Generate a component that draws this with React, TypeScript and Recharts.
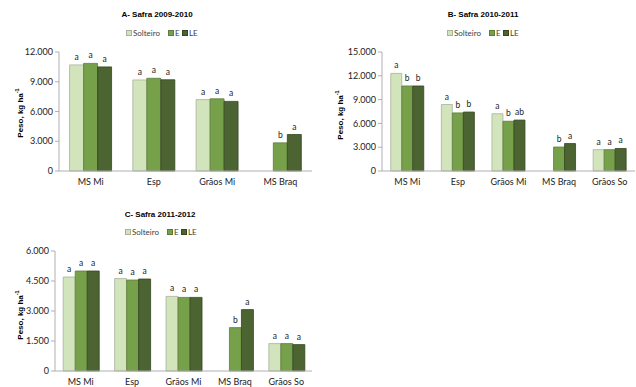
import React from "react";
import { BarChart, Bar, XAxis, YAxis, LabelList } from "recharts";

// ---- Data ----
const catsA = ["MS Mi", "Esp", "Grãos Mi", "MS Braq"];
const solteiroA = [10700, 9180, 7200, null];
const eA = [10850, 9350, 7280, 2840];
const leA = [10500, 9200, 7020, 3680];
const sigSolteiroA = ["a", "a", "a", ""];
const sigEA = ["a", "a", "a", "b"];
const sigLEA = ["a", "a", "a", "a"];
const ticksA = [0, 3000, 6000, 9000, 12000];

const catsB = ["MS Mi", "Esp", "Grãos Mi", "MS Braq", "Grãos So"];
const solteiroB = [12300, 8380, 7220, null, 2690];
const eB = [10720, 7320, 6270, 3020, 2690];
const leB = [10720, 7430, 6420, 3460, 2840];
const sigSolteiroB = ["a", "a", "a", "", "a"];
const sigEB = ["b", "b", "b", "b", "a"];
const sigLEB = ["b", "b", "ab", "a", "a"];
const ticksB = [0, 3000, 6000, 9000, 12000, 15000];

const catsC = ["MS Mi", "Esp", "Grãos Mi", "MS Braq", "Grãos So"];
const solteiroC = [4700, 4620, 3730, null, 1370];
const eC = [5000, 4550, 3680, 2170, 1370];
const leC = [5000, 4600, 3680, 3070, 1320];
const sigSolteiroC = ["a", "a", "a", "", "a"];
const sigEC = ["a", "a", "a", "b", "a"];
const sigLEC = ["a", "a", "a", "a", "a"];
const ticksC = [0, 1500, 3000, 4500, 6000];

const seriesNames = ["Solteiro", "E", "LE"];
const titles = ["A- Safra 2009-2010", "B- Safra 2010-2011", "C- Safra 2011-2012"];

// ---- Styles ----
const FILLS = ["#d2e4bb", "#77a04b", "#4b6431"];
const STROKES = ["#a9b19c", "#5d7e3a", "#33461f"];
const TICK_FONT = "Lato, 'Open Sans', sans-serif";
const TITLE_FONT = "'Liberation Sans', Arial, sans-serif";
const LEGEND_OFFSETS = [0, 42, 56];

const fmt = (v: number) => (v === 0 ? "0" : v.toLocaleString("de-DE"));

function buildRows(cats: string[], s: (number | null)[], e: number[], le: number[], ls: string[], lE: string[], lLE: string[]) {
  return cats.map((c, i) => ({
    cat: c,
    Solteiro: s[i],
    E: e[i],
    LE: le[i],
    lS: ls[i],
    lE: lE[i],
    lLE: lLE[i],
  }));
}

const LegendSvg = ({ x, y }: { x: number; y: number }) => (
  <g>
    {seriesNames.map((n, i) => (
      <g key={n}>
        <rect x={x + LEGEND_OFFSETS[i] + 0.5} y={y - 2.5} width={5} height={5} fill={FILLS[i]} stroke={STROKES[i]} strokeWidth={1} />
        <text
          x={x + LEGEND_OFFSETS[i] + 7}
          y={y}
          dominantBaseline="central"
          fontFamily={TICK_FONT}
          fontSize={8}
          fill="#404040"
        >
          {n}
        </text>
      </g>
    ))}
  </g>
);

const TitleSvg = ({ text, cx, y }: { text: string; cx: number; y: number }) => (
  <text x={cx} y={y} textAnchor="middle" dominantBaseline="central" fontFamily={TITLE_FONT} fontWeight="bold" fontSize={8} fill="#000">
    {text}
  </text>
);

const YLabel = ({ x, y }: { x: number; y: number }) => (
  <text
    x={x}
    y={y}
    transform={`rotate(-90 ${x} ${y})`}
    textAnchor="middle"
    dominantBaseline="central"
    fontFamily={TITLE_FONT}
    fontWeight="bold"
    fontSize={8}
    fill="#000"
  >
    Peso, kg ha
    <tspan fontSize={5.5} dy={-3}>
      -1
    </tspan>
  </text>
);

type PanelProps = {
  rows: any[];
  ticks: number[];
  yWidth: number;
  width: number;
  height: number;
  margin: { top: number; right: number; bottom: number; left: number };
  gap: string;
  yLabelX: number;
  yLabelY: number;
};

const Panel = ({ rows, ticks, yWidth, width, height, margin, gap, yLabelX, yLabelY }: PanelProps) => (
  <BarChart width={width} height={height} data={rows} margin={margin} barGap={0} barCategoryGap={gap}>
    <XAxis
      dataKey="cat"
      height={20}
      tickLine={false}
      axisLine={{ stroke: "#b0b0b0" }}
      tick={{ fontFamily: TICK_FONT, fontSize: 9, fill: "#222" }}
      interval={0}
    />
    <YAxis
      width={yWidth}
      domain={[ticks[0], ticks[ticks.length - 1]]}
      ticks={ticks}
      tickFormatter={fmt}
      axisLine={{ stroke: "#b0b0b0" }}
      tickLine={{ stroke: "#b0b0b0" }}
      tickSize={4}
      tick={{ fontFamily: TICK_FONT, fontSize: 9, fill: "#222" }}
      label={{ content: () => <YLabel x={yLabelX} y={yLabelY} /> }}
    />
    {["Solteiro", "E", "LE"].map((k, i) => (
      <Bar key={k} dataKey={k} fill={FILLS[i]} stroke={STROKES[i]} strokeWidth={0.8} isAnimationActive={false}>
        <LabelList
          dataKey={["lS", "lE", "lLE"][i]}
          position="top"
          offset={5}
          style={{ fontFamily: TICK_FONT, fontSize: 8.5, fill: "#222" }}
        />
      </Bar>
    ))}
  </BarChart>
);

export default function App() {
  const rowsA = buildRows(catsA, solteiroA, eA, leA, sigSolteiroA, sigEA, sigLEA);
  const rowsB = buildRows(catsB, solteiroB, eB, leB, sigSolteiroB, sigEB, sigLEB);
  const rowsC = buildRows(catsC, solteiroC, eC, leC, sigSolteiroC, sigEC, sigLEC);
  return (
    <div style={{ position: "absolute", left: 0, top: 0, width: 636, height: 387, background: "#fff", overflow: "hidden" }}>
      <div style={{ position: "absolute", left: 0, top: 0 }}>
        <Panel
          rows={rowsA}
          ticks={ticksA}
          yWidth={59}
          width={320}
          height={195}
          margin={{ top: 52, right: 8, bottom: 4, left: 0 }}
          gap="16.7%"
          yLabelX={20}
          yLabelY={113}
        />
      </div>

      <div style={{ position: "absolute", left: 320, top: 0 }}>
        <Panel
          rows={rowsB}
          ticks={ticksB}
          yWidth={62}
          width={316}
          height={195}
          margin={{ top: 52, right: 1, bottom: 4, left: 0 }}
          gap="17.3%"
          yLabelX={20}
          yLabelY={115}
        />
      </div>

      <div style={{ position: "absolute", left: 0, top: 199 }}>
        <Panel
          rows={rowsC}
          ticks={ticksC}
          yWidth={55}
          width={320}
          height={195}
          margin={{ top: 52, right: 8, bottom: 3, left: 0 }}
          gap="16%"
          yLabelX={20}
          yLabelY={116}
        />
      </div>

      <svg width={636} height={387} style={{ position: "absolute", left: 0, top: 0, pointerEvents: "none" }}>
        <TitleSvg text={titles[0]} cx={157} y={14} />
        <TitleSvg text={titles[1]} cx={483} y={14} />
        <TitleSvg text={titles[2]} cx={160} y={214} />
        <LegendSvg x={126} y={33} />
        <LegendSvg x={447} y={33} />
        <LegendSvg x={125} y={232} />
      </svg>
    </div>
  );
}
